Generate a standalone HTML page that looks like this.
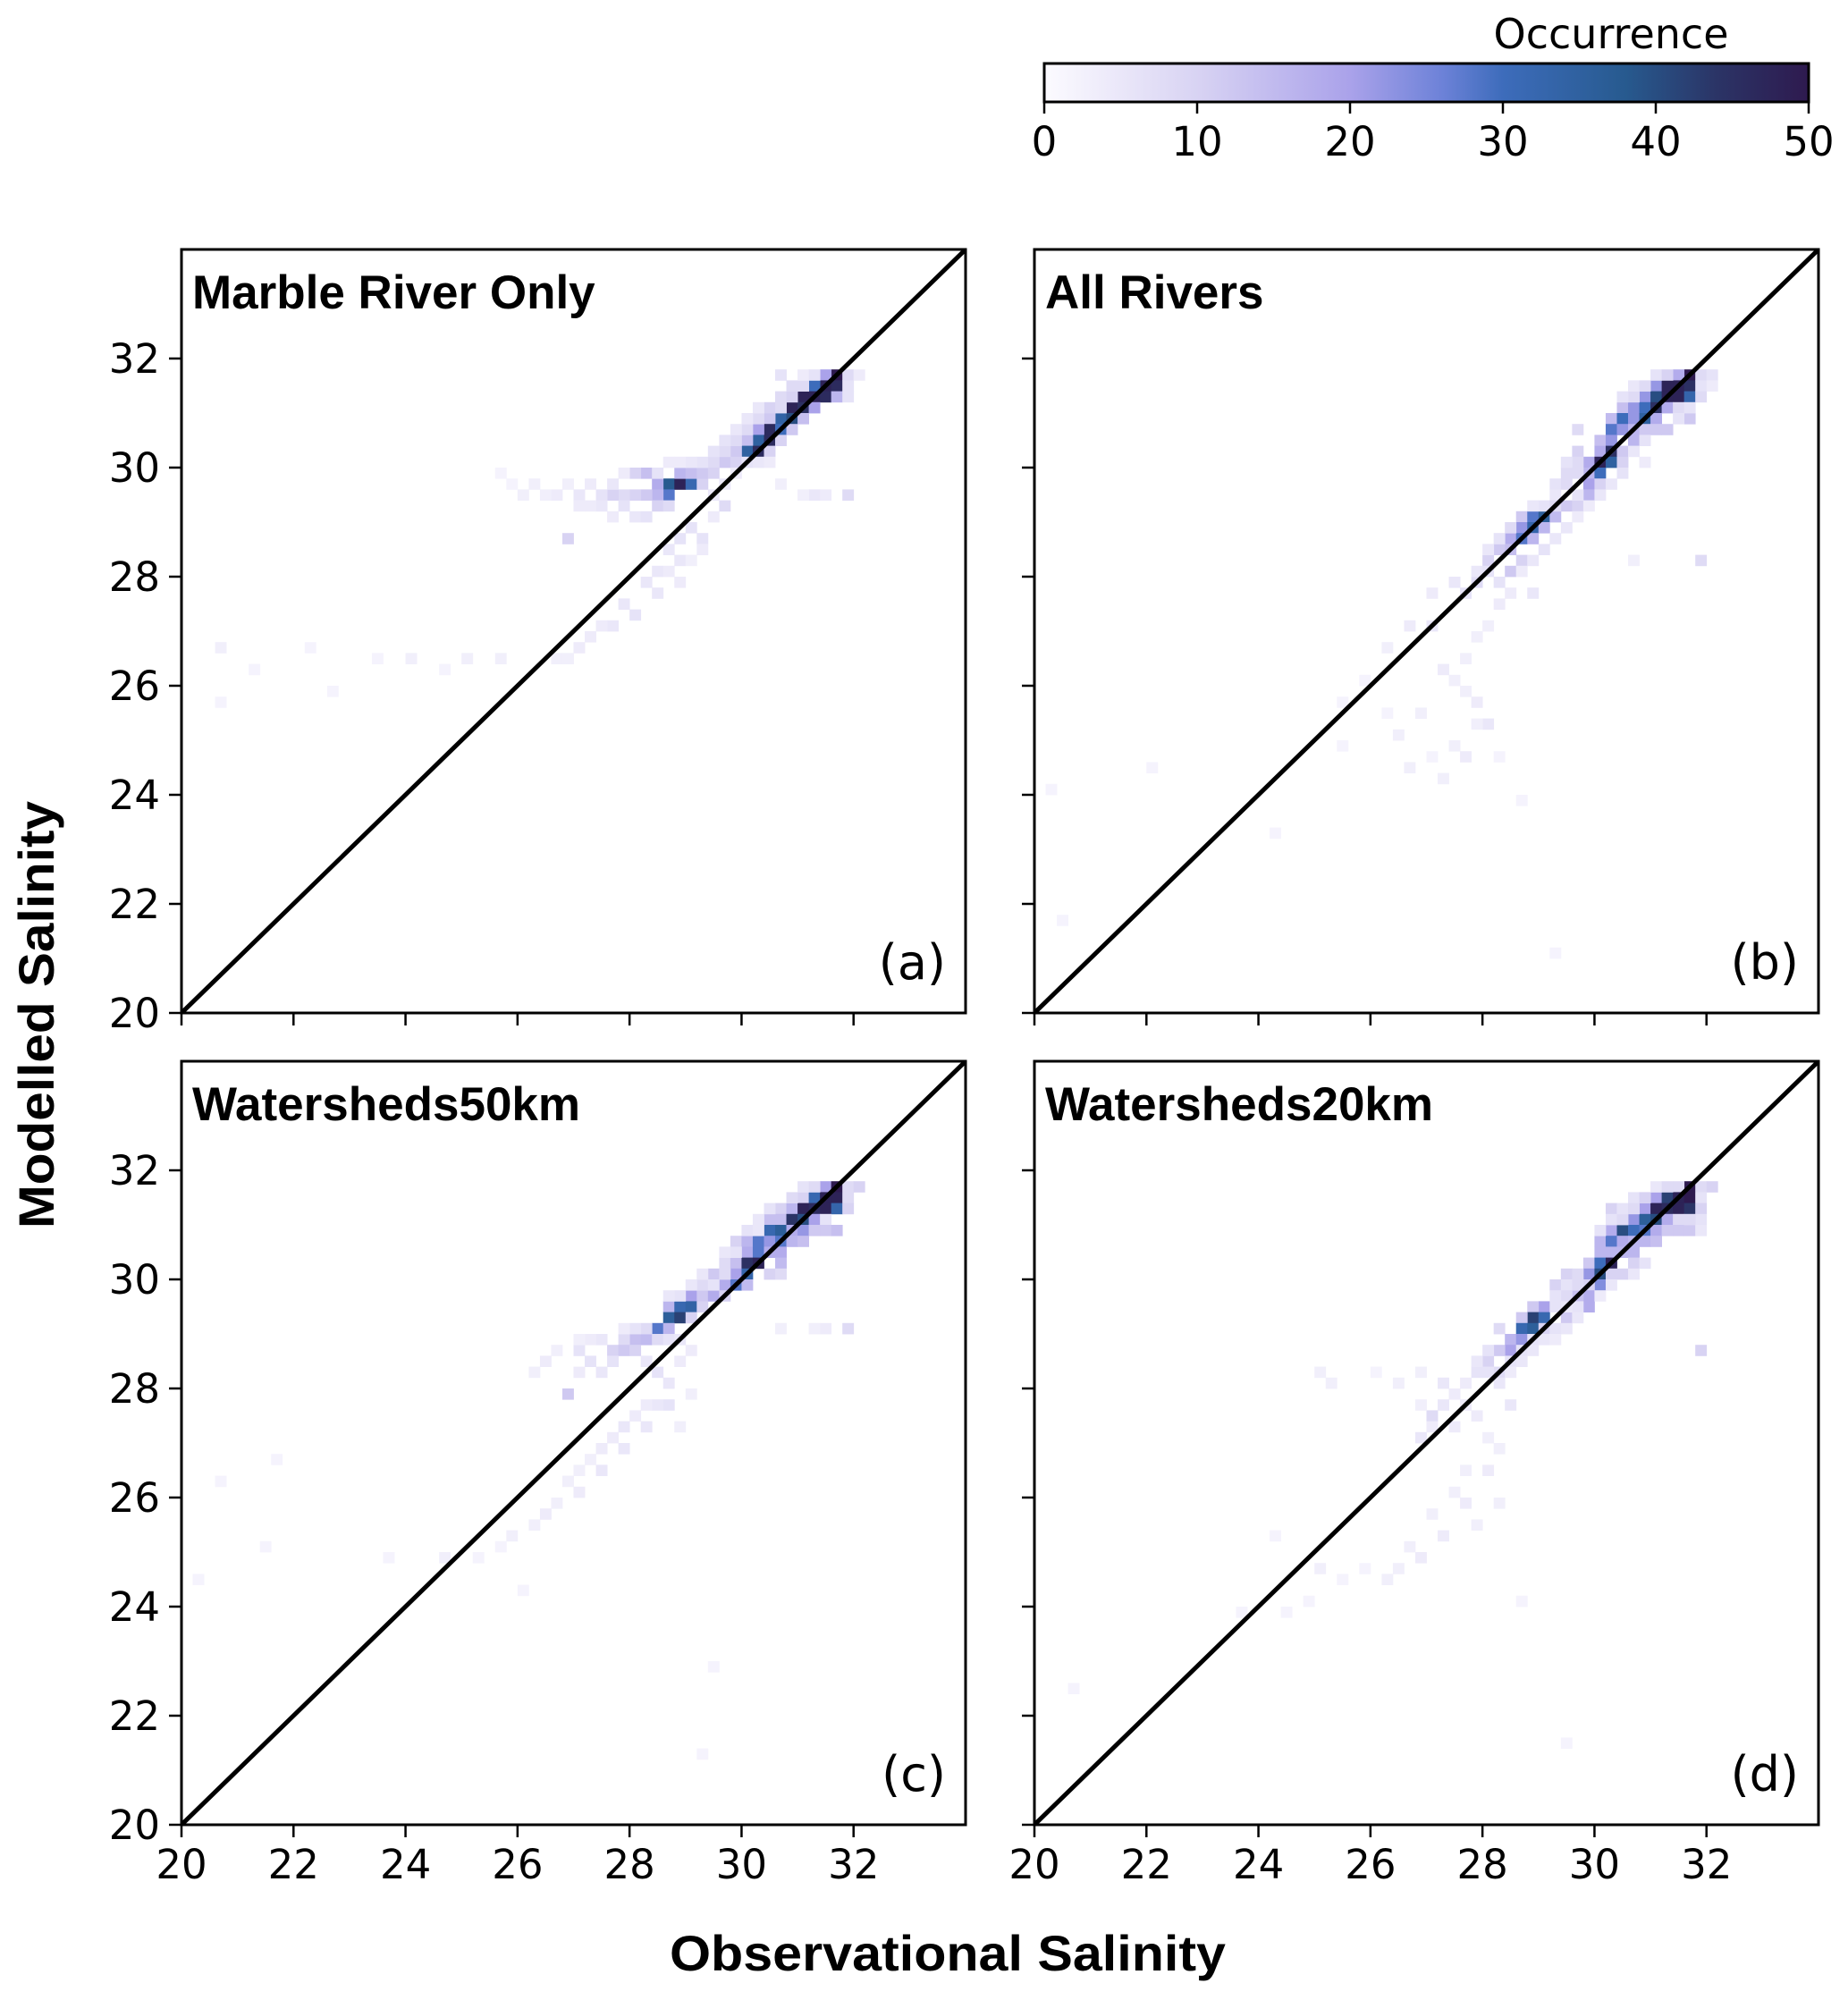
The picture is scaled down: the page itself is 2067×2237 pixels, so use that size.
<!DOCTYPE html>
<html><head><meta charset="utf-8"><style>
body{margin:0;background:#fff}
svg{display:block}
</style></head><body>
<svg id="fig" width="2067" height="2237" viewBox="0 0 2067 2237" xmlns="http://www.w3.org/2000/svg">
<defs>
<linearGradient id="cbgrad" x1="0" x2="1" y1="0" y2="0">
<stop offset="0" stop-color="#fcfbff"/><stop offset="0.2" stop-color="#d8d3f3"/><stop offset="0.4" stop-color="#aaa2ea"/>
<stop offset="0.52" stop-color="#6d82d8"/><stop offset="0.6" stop-color="#3d6cbb"/><stop offset="0.76" stop-color="#275a8f"/>
<stop offset="0.88" stop-color="#2b3466"/><stop offset="1" stop-color="#2e1a4f"/></linearGradient>
</defs>
<g id="cbar"></g>
<g id="panels"></g>
<text transform="translate(60,1135) rotate(-90)" text-anchor="middle" font-family="Liberation Sans, sans-serif" font-weight="bold" font-size="56" textLength="478" lengthAdjust="spacingAndGlyphs">Modelled Salinity</text>
<text x="1060" y="2204" text-anchor="middle" font-family="Liberation Sans, sans-serif" font-weight="bold" font-size="56" textLength="622" lengthAdjust="spacingAndGlyphs">Observational Salinity</text>
</svg>
<script>
const cbTicks=[0,10,20,30,40,50];
const axisTicks=[20,22,24,26,28,30,32];
const panelTitles=["Marble River Only","All Rivers","Watersheds50km","Watersheds20km"];
const panelLetters=["(a)","(b)","(c)","(d)"];
// cells: [x bin lower edge, y bin lower edge, count]
const cellsA=[[31.6,31.6,50],[31.4,31.6,20],[31.4,31.4,48],[31.6,31.4,46],[31.2,31.4,30],[31.0,31.2,48],[31.2,31.2,48],[31.4,31.2,46],[31.6,31.2,16],
[30.8,31.0,48],[31.0,31.0,45],[31.2,31.0,20],[30.6,30.8,34],[30.8,30.8,40],[30.4,30.8,12],[31.0,30.8,14],[30.4,30.6,46],[30.6,30.6,30],[30.2,30.6,20],[30.8,30.6,12],
[30.2,30.4,35],[30.4,30.4,46],[30.0,30.4,14],[30.6,30.4,10],[30.0,30.2,35],[30.2,30.2,46],[29.8,30.2,12],[30.4,30.2,10],[29.6,30.0,12],[29.8,30.0,10],[29.4,30.0,8],
[28.6,29.6,38],[28.8,29.6,48],[29.0,29.6,32],[28.4,29.6,18],[29.2,29.6,10],[28.6,29.4,28],[28.4,29.4,16],[28.2,29.4,12],[28.0,29.4,10],[27.8,29.4,8],[27.6,29.4,10],[27.4,29.4,6],[27.0,29.4,5],
[28.2,29.8,14],[28.0,29.8,10],[28.8,29.8,16],[29.0,29.8,14],[29.2,29.8,12],[29.4,29.8,10],[28.4,29.2,10],[28.6,29.2,8],[26.8,28.6,10],[27.8,29.2,6],[29.6,29.2,8],[31.8,29.4,8],[31.2,29.4,5],
[29.0,28.8,6],[29.2,28.6,6],[28.8,28.2,5],[28.4,27.6,5],[28.0,27.2,6],[27.6,27.0,5],[27.2,26.8,4],[26.6,26.4,3],[25.0,26.4,3],[24.0,26.4,3],[20.6,26.6,3],[21.2,26.2,2],[20.6,25.6,2],[22.6,25.8,2],[25.6,29.8,2],[26.2,29.6,3],[30.6,31.6,6],[31.8,31.6,8],[31.8,31.4,6],
[29.6,30.2,8],[29.4,30.2,6],[29.2,30.0,6],[29.0,30.0,5],[28.8,30.0,4],[28.6,30.0,4],[28.4,29.8,6],[27.8,29.8,4],[27.6,29.6,5],[27.2,29.6,4],[26.8,29.6,3],[26.6,29.4,4],[26.4,29.4,3],[26.0,29.4,3],[25.8,29.6,2],
[29.8,30.4,8],[29.6,30.4,6],[30.0,30.6,8],[29.8,30.6,5],[30.2,30.8,8],[30.0,30.8,5],[30.4,31.0,10],[30.6,31.0,8],[30.2,31.0,5],[30.6,31.2,8],[30.8,31.2,10],[30.8,31.4,8],[31.0,31.4,8],[31.0,31.6,4],[31.2,31.6,6],[31.8,31.2,6],[32.0,31.6,4],
[27.4,29.2,5],[27.2,29.2,4],[27.0,29.2,4],[27.6,29.0,4],[28.0,29.0,5],[28.2,29.0,6],[29.4,29.4,5],[29.6,29.6,5],[29.8,29.8,4],[30.0,30.0,6],[30.2,30.0,5],[30.4,30.0,4],[30.6,29.6,3],[31.4,29.4,4],[31.0,29.4,3],
[28.8,28.6,6],[28.6,28.4,5],[28.4,28.0,5],[28.2,27.8,5],[28.6,28.0,4],[28.8,27.8,4],[27.8,27.4,5],[27.4,27.0,4],[27.0,26.6,4],[26.8,26.4,3],[29.0,28.2,3],[29.4,29.0,4],[29.2,28.4,4],[25.6,26.4,3],[24.6,26.2,2],[23.4,26.4,2],[22.2,26.6,2]];
const cellsB=[[31.6,31.6,50],[31.4,31.6,18],[31.0,31.4,22],[31.2,31.4,48],[31.4,31.4,48],[31.6,31.4,45],[30.8,31.2,22],[31.0,31.2,40],[31.2,31.2,48],[31.4,31.2,48],[31.6,31.2,33],
[30.4,31.0,14],[30.6,31.0,22],[30.8,31.0,30],[31.0,31.0,45],[31.2,31.0,18],[30.2,30.8,15],[30.4,30.8,30],[30.6,30.8,22],[30.8,30.8,35],[31.0,30.8,18],[31.6,30.8,12],
[30.2,30.6,28],[30.4,30.6,22],[30.6,30.6,16],[30.8,30.6,12],[31.0,30.6,12],[31.2,30.6,12],[30.0,30.4,14],[30.2,30.4,22],[30.6,30.4,16],[30.0,30.2,18],[30.2,30.2,45],[30.4,30.2,12],
[29.8,30.0,18],[30.0,30.0,48],[30.2,30.0,35],[30.4,30.0,10],[29.8,29.8,16],[30.0,29.8,30],[29.8,29.6,20],[30.0,29.6,10],[29.8,29.4,16],[29.4,29.2,12],[29.6,29.2,10],
[28.6,29.0,12],[28.8,29.0,28],[29.0,29.0,36],[29.2,29.0,15],[28.6,28.8,22],[28.8,28.8,33],[29.0,28.8,16],[28.4,28.6,18],[28.6,28.6,28],[28.8,28.6,16],[28.2,28.4,12],[28.4,28.4,14],
[28.0,28.2,10],[28.4,28.0,12],[28.6,28.2,10],[27.8,27.8,8],[28.2,27.8,6],[27.6,27.6,6],[28.8,27.6,5],[27.0,27.0,5],[27.2,26.2,4],[27.8,25.6,4],[28.0,25.2,5],[27.6,24.6,4],[27.2,24.2,3],[26.4,25.0,3],
[31.8,28.2,8],[30.6,28.2,3],[24.2,23.2,2],[22.0,24.4,2],[20.4,21.6,2],[29.2,21.0,2],[29.6,30.2,10],[29.6,30.6,8],[29.4,29.8,8],[31.8,31.6,8],[31.8,31.4,6],
[29.6,30.0,8],[29.4,30.0,6],[29.6,29.8,8],[29.2,29.6,6],[29.4,29.6,8],[29.6,29.4,6],[29.2,29.4,5],[29.0,29.2,6],[29.2,29.2,8],[28.8,29.2,5],[28.4,28.8,8],[28.2,28.6,6],[28.0,28.4,5],[27.8,28.0,5],[28.0,28.0,6],
[30.4,29.8,6],[30.2,29.6,5],[30.0,29.4,5],[29.8,29.2,4],[29.6,29.0,4],[29.4,28.8,5],[29.2,28.6,5],[29.0,28.4,6],[28.8,28.2,5],[28.6,28.0,4],[28.4,27.6,4],[28.2,27.4,4],[28.0,27.0,3],[27.8,26.8,3],[27.6,26.4,3],[27.4,26.0,3],[27.6,25.8,3],[27.8,25.2,3],[27.0,24.6,2],[26.6,24.4,3],[27.4,24.8,3],[28.2,24.6,2],
[30.6,31.2,8],[30.4,31.2,6],[30.6,31.4,5],[30.8,31.4,8],[31.0,31.6,6],[31.2,31.6,10],[32.0,31.6,6],[32.0,31.4,4],[31.8,31.2,8],[31.4,31.0,8],[31.6,31.0,6],[31.4,30.8,6],[30.8,30.4,6],[30.6,30.2,5],[30.8,30.0,4],
[26.6,27.0,4],[26.2,26.6,3],[25.8,26.0,2],[25.4,25.6,2],[27.0,27.6,4],[27.4,27.8,5],[26.8,25.4,3],[26.2,25.4,2],[25.4,24.8,2],[28.6,23.8,2],[20.2,24.0,2]];
const cellsC=[[31.4,31.6,20],[31.6,31.6,50],[31.8,31.6,8],[32.0,31.6,10],[31.0,31.4,10],[31.2,31.4,32],[31.4,31.4,48],[31.6,31.4,48],[31.8,31.4,8],
[30.6,31.2,10],[30.8,31.2,16],[31.0,31.2,48],[31.2,31.2,46],[31.4,31.2,48],[31.6,31.2,33],[31.8,31.2,10],[30.4,31.0,14],[30.6,31.0,14],[30.8,31.0,44],[31.0,31.0,40],[31.2,31.0,20],[31.4,31.0,6],
[30.4,30.8,32],[30.6,30.8,36],[30.8,30.8,18],[31.0,30.8,22],[31.2,30.8,12],[31.4,30.8,12],[31.6,30.8,14],[29.8,30.6,10],[30.0,30.6,16],[30.2,30.6,28],[30.4,30.6,22],[30.6,30.6,28],[30.8,30.6,16],[31.0,30.6,14],
[30.0,30.4,18],[30.2,30.4,28],[30.4,30.4,18],[30.6,30.4,18],[29.6,30.2,8],[29.8,30.2,14],[30.0,30.2,45],[30.2,30.2,48],[30.6,30.2,15],[29.4,30.0,12],[29.8,30.0,20],[30.0,30.0,33],[30.4,30.0,10],[30.6,30.0,8],
[29.6,29.8,18],[29.8,29.8,28],[30.0,29.8,15],[29.0,29.6,20],[29.2,29.6,12],[29.4,29.6,18],[29.6,29.6,10],[28.6,29.4,16],[28.8,29.4,32],[29.0,29.4,34],[29.2,29.4,10],[28.6,29.2,36],[28.8,29.2,42],[29.0,29.2,10],
[28.4,29.0,28],[28.6,29.0,16],[31.8,29.0,8],[31.4,29.0,4],[28.0,28.8,14],[28.2,28.8,15],[27.8,28.8,8],[27.6,28.6,10],[27.8,28.6,12],[28.0,28.6,10],[27.2,28.4,6],[26.8,27.8,12],[27.0,28.6,6],
[28.4,28.2,6],[28.6,27.6,6],[28.2,27.2,5],[27.8,26.8,5],[27.4,26.4,5],[27.0,26.0,4],[26.4,25.6,4],[25.8,25.2,3],[24.6,24.8,3],[23.6,24.8,2],[21.4,25.0,2],[20.6,26.2,2],[21.6,26.6,2],[20.2,24.4,2],[29.4,22.8,2],[29.2,21.2,2],[26.0,24.2,2],
[29.2,29.8,8],[29.4,29.8,6],[29.0,29.8,5],[28.8,29.6,6],[28.6,29.6,5],[29.2,30.0,5],[29.6,30.0,8],[29.8,30.4,6],[29.6,30.4,5],[30.0,30.8,6],[30.2,30.8,5],[30.2,31.0,5],[30.4,31.2,6],[30.8,31.4,8],[31.0,31.6,6],[31.2,31.6,8],
[28.2,29.0,8],[28.0,29.0,6],[27.8,29.0,4],[28.4,28.8,8],[28.6,28.8,6],[28.8,28.8,5],[27.4,28.8,5],[27.2,28.8,4],[27.0,28.8,3],[26.6,28.6,3],[26.4,28.4,4],[26.2,28.2,3],[27.6,28.4,6],[27.4,28.2,5],[27.0,28.2,4],[28.2,28.4,5],
[28.8,28.4,4],[28.6,28.0,5],[28.4,27.6,5],[28.2,27.6,4],[28.0,27.4,4],[27.8,27.2,5],[27.6,27.0,4],[27.4,26.8,4],[27.2,26.6,3],[27.0,26.4,3],[26.8,26.2,3],[26.6,25.8,3],[26.2,25.4,3],[25.6,25.0,2],[25.2,24.8,2],[28.8,27.2,3],[29.0,27.8,3],[29.0,28.6,4],[30.6,29.0,3],[31.2,29.0,3]];
const cellsD=[[31.6,31.6,50],[31.4,31.6,8],[31.8,31.6,8],[32.0,31.6,10],[30.6,31.4,6],[31.0,31.4,20],[31.2,31.4,42],[31.4,31.4,48],[31.6,31.4,50],[31.8,31.4,6],
[30.2,31.2,10],[30.8,31.2,20],[31.0,31.2,48],[31.2,31.2,46],[31.4,31.2,48],[31.6,31.2,44],[31.8,31.2,10],[30.6,31.0,22],[30.8,31.0,36],[31.0,31.0,40],[31.2,31.0,18],[31.4,31.0,8],
[30.2,30.8,18],[30.4,30.8,40],[30.6,30.8,30],[30.8,30.8,28],[31.0,30.8,18],[31.2,30.8,12],[31.4,30.8,12],[31.6,30.8,12],[30.0,30.6,16],[30.2,30.6,28],[30.4,30.6,18],[30.6,30.6,16],[30.8,30.6,16],[31.0,30.6,14],
[30.0,30.4,16],[30.2,30.4,16],[30.4,30.4,16],[30.6,30.4,16],[29.8,30.2,12],[30.0,30.2,30],[30.2,30.2,48],[30.6,30.2,10],[29.8,30.0,22],[30.0,30.0,40],[30.2,30.0,10],[30.4,30.0,10],[29.4,30.0,10],
[30.0,29.8,24],[29.8,29.8,10],[29.2,29.8,10],[29.8,29.6,18],[29.6,29.6,14],[29.0,29.4,20],[29.8,29.4,18],[28.8,29.4,12],[28.8,29.2,42],[29.0,29.2,32],[28.6,29.2,12],[29.4,29.2,12],
[28.6,29.0,32],[28.8,29.0,36],[29.0,29.0,10],[28.2,29.0,8],[28.4,28.8,16],[28.6,28.8,22],[31.8,28.6,10],[28.4,28.6,20],[28.2,28.6,12],[28.0,28.4,10],[28.2,28.2,8],[27.8,28.2,6],
[27.2,28.0,5],[25.2,28.0,3],[26.4,28.0,3],[27.0,27.4,8],[26.8,27.0,5],[28.4,27.6,5],[28.0,26.4,4],[27.6,25.8,4],[27.2,25.2,4],[26.8,24.8,4],[26.2,24.4,3],[25.0,24.6,3],[24.4,23.8,2],[20.6,22.4,2],[28.6,24.0,2],[29.4,21.4,2],
[29.6,30.0,8],[29.4,29.8,6],[29.6,29.8,8],[29.4,29.6,8],[29.2,29.6,6],[29.6,29.4,6],[29.2,29.4,6],[29.4,29.4,5],[29.6,29.2,5],[29.2,29.0,6],[29.4,29.0,5],[28.8,28.8,6],[29.0,28.8,5],[29.2,28.8,4],[28.6,28.6,6],[28.8,28.6,5],
[28.0,28.6,6],[27.8,28.4,5],[28.4,28.4,6],[28.6,28.4,5],[28.0,28.2,6],[27.6,28.0,4],[28.2,28.0,5],[28.4,28.2,4],[27.4,27.8,4],[27.6,27.6,4],[27.2,27.6,5],[27.0,27.2,4],[27.4,27.2,4],[26.8,27.6,3],[27.8,27.4,4],[28.0,27.0,3],[28.2,26.8,3],
[27.6,26.4,3],[27.4,26.0,3],[27.0,25.6,3],[27.8,25.4,3],[28.2,25.8,3],[26.6,25.0,3],[26.4,24.6,3],[25.8,24.6,2],[25.4,24.4,2],[24.8,24.0,2],[23.6,23.8,2],[24.2,25.2,2],[25.0,28.2,3],[26.0,28.2,2],[26.8,28.2,3],
[30.2,31.0,6],[30.4,31.0,8],[30.4,31.2,6],[30.6,31.2,8],[30.8,31.4,10],[31.0,31.6,5],[31.2,31.6,8],[30.0,30.8,6],[31.8,31.0,6],[31.6,31.0,8],[31.8,30.8,5],[30.8,30.2,6],[30.6,30.0,5],[30.2,29.8,5],[30.0,29.6,4]];
const allCells=[cellsA,cellsB,cellsC,cellsD];

const NS="http://www.w3.org/2000/svg";
const svg=document.getElementById('fig');
function mk(tag,attrs,parent){const e=document.createElementNS(NS,tag);for(const k in attrs)e.setAttribute(k,attrs[k]);(parent||svg).appendChild(e);return e;}
const cmapStops=[[0,[252,251,255]],[10,[216,211,243]],[20,[170,162,234]],[26,[109,130,216]],[30,[61,108,187]],[38,[39,90,143]],[44,[43,52,102]],[50,[46,26,79]]];
function cmap(v){v=Math.max(0,Math.min(50,v));for(let i=1;i<cmapStops.length;i++){const [a,ca]=cmapStops[i-1],[b,cb]=cmapStops[i];if(v<=b){const t=(v-a)/(b-a);return 'rgb('+ca.map((c,j)=>Math.round(c+(cb[j]-c)*t)).join(',')+')';}}return 'rgb(46,26,79)';}

const cb=document.getElementById('cbar');
const cbX0=1168,cbX1=2023,cbY0=71,cbY1=114;
function cbx(v){return cbX0+(v-0)/(50-0)*(cbX1-cbX0);}
let r=mk('rect',{x:cbX0,y:cbY0,width:cbX1-cbX0,height:cbY1-cbY0,fill:'url(#cbgrad)',stroke:'#000','stroke-width':3},cb);


let t=mk('text',{x:1802,y:54,'text-anchor':'middle','font-family':'DejaVu Sans, sans-serif','font-size':46},cb);t.textContent='Occurrence';


cbTicks.forEach(v=>{
  const l=mk('line',{x1:cbx(v),x2:cbx(v),y1:cbY1,y2:cbY1+13,stroke:'#000','stroke-width':2.5},cb);
  
  
  const tx=mk('text',{x:cbx(v),y:174,'text-anchor':'middle','font-family':'DejaVu Sans, sans-serif','font-size':45},cb);tx.textContent=v;
  
  
});

const panelBoxes=[[203,279],[1157,279],[203,1187],[1157,1187]];
const PW=877,PH=854;
const panels=document.getElementById('panels');
panelBoxes.forEach((pb,i)=>{
  const [X0,Y0]=pb;
  const g=mk('g',{},panels);
  
  
  const sx=v=>X0+(v-20)/14*PW, sy=v=>Y0+PH-(v-20)/14*PH;
  const cp=mk('clipPath',{id:'clip'+i},g);
  mk('rect',{x:X0,y:Y0,width:PW,height:PH},cp);
  const cg=mk('g',{'clip-path':'url(#clip'+i+')'},g);
  allCells[i].forEach(c=>{
    const rc=mk('rect',{x:sx(c[0]),y:sy(c[1]+0.2),width:sx(c[0]+0.2)-sx(c[0])+0.4,height:sy(c[1])-sy(c[1]+0.2)+0.4,fill:cmap(c[2])},cg);
    
    
  });
  const dl=mk('line',{x1:sx(20),y1:sy(20),x2:sx(34),y2:sy(34),stroke:'#000','stroke-width':5},cg);
  
  
  const fr=mk('rect',{x:X0,y:Y0,width:PW,height:PH,fill:'none',stroke:'#000','stroke-width':3},g);
  
  
  axisTicks.forEach(v=>{
    const lx=mk('line',{x1:sx(v),x2:sx(v),y1:Y0+PH,y2:Y0+PH+14,stroke:'#000','stroke-width':2.5},g);
    
    
    const ly=mk('line',{x1:X0-14,x2:X0,y1:sy(v),y2:sy(v),stroke:'#000','stroke-width':2.5},g);
    
    
    if(i>=2){const tl=mk('text',{x:sx(v),y:Y0+PH+60,'text-anchor':'middle','font-family':'DejaVu Sans, sans-serif','font-size':45},g);tl.textContent=v;
      
      }
    if(i%2===0){const tl=mk('text',{x:X0-24,y:sy(v)+16,'text-anchor':'end','font-family':'DejaVu Sans, sans-serif','font-size':45},g);tl.textContent=v;
      
      }
  });
  const tt=mk('text',{x:X0+12,y:Y0+66,'font-family':'Liberation Sans, sans-serif','font-weight':'bold','font-size':53},g);tt.textContent=panelTitles[i];
  
  
  const pl=mk('text',{x:X0+PW-22,y:Y0+PH-38,'text-anchor':'end','font-family':'DejaVu Sans, sans-serif','font-size':54},g);pl.textContent=panelLetters[i];
  
  
});
</script>
</body></html>
